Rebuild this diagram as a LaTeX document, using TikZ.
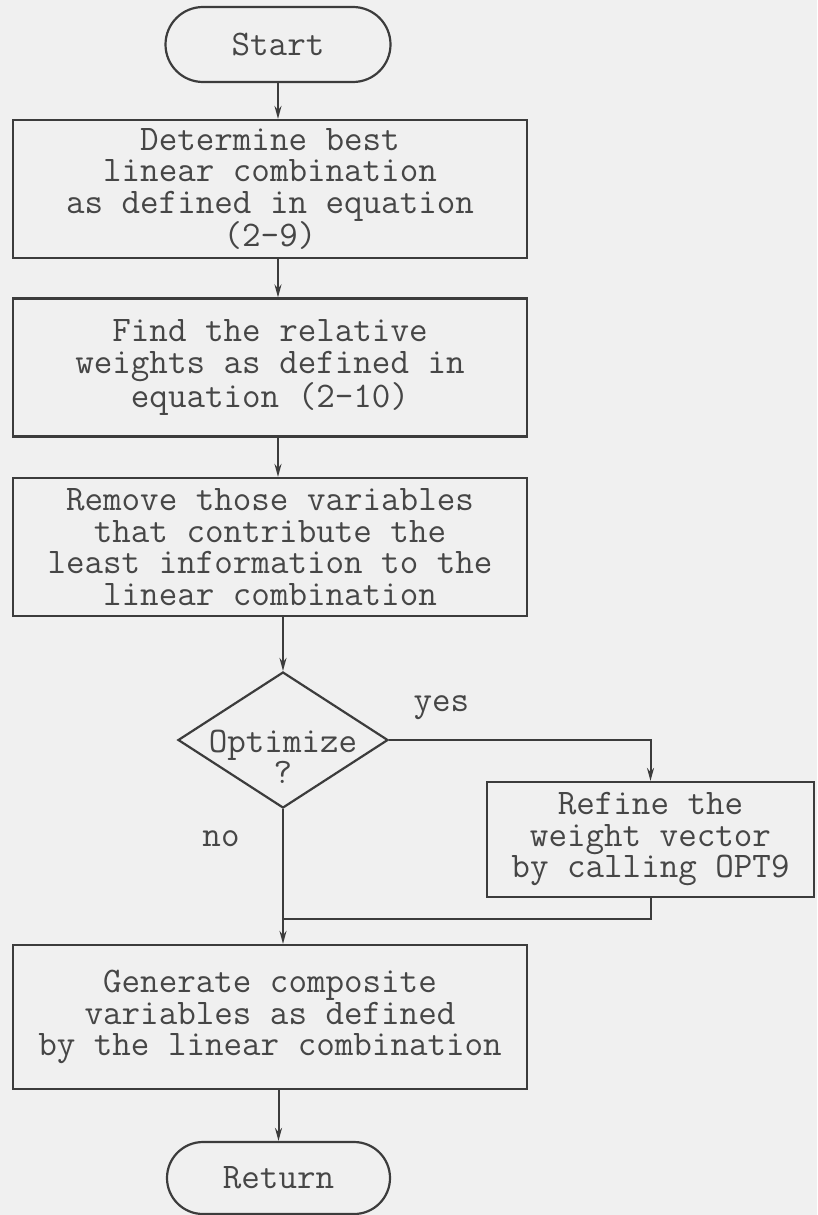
\documentclass[tikz,border=0pt]{standalone}
\usepackage{fontspec}
\usetikzlibrary{shapes.geometric,shapes.misc,arrows.meta}
\definecolor{bg}{RGB}{240,240,240}
\definecolor{ink}{RGB}{60,60,60}
\definecolor{txt}{RGB}{70,70,70}
\newcommand{\flowfont}{\ttfamily\fontsize{36}{31.5}\selectfont}
\begin{document}
\begin{tikzpicture}[x=1pt,y=-1pt,
  base/.style={draw=ink, line width=2.2pt, text=txt,
    font=\flowfont, align=center, inner sep=0pt},
  terminal/.style={base, rounded rectangle, minimum width=225pt, minimum height=75pt},
  process/.style={base, rectangle, minimum width=514pt, minimum height=138pt},
  decision/.style={base, diamond, minimum width=210pt, minimum height=136pt},
  lbl/.style={text=txt, font=\flowfont, align=center, inner sep=0pt},
  link/.style={draw=ink, line width=2pt},
  arr/.style={link, -{Stealth[length=13pt,width=7pt]}}]
\useasboundingbox (0,0) rectangle (817,1215);
\fill[bg] (0,0) rectangle (817,1215);

\node[terminal] (start) at (278,44.5) {Start};
\node[process] (b1) at (270,189) {Determine best\\linear combination\\as defined in equation\\(2-9)};
\node[process] (b2) at (270,367.5) {Find the relative\\weights as defined in\\equation (2-10)};
\node[process] (b3) at (270,547) {Remove those variables\\that contribute the\\least information to the\\linear combination};
\node[decision, label={[lbl, yshift=-17pt]center:Optimize\\?}] (dec) at (283,740) {};
\node[process, minimum width=327pt, minimum height=115pt] (ref) at (650.5,839.5) {Refine the\\weight vector\\by calling OPT9};
\node[process, minimum height=144pt] (fin) at (270,1017) {Generate composite\\variables as defined\\by the linear combination};
\node[terminal, minimum width=223pt, minimum height=72pt] (ret) at (278.5,1178) {Return};

\draw[arr] (start.south) -- (start.south |- b1.north);
\draw[arr] (b1.south -| start.south) -- (b2.north -| start.south);
\draw[arr] (b2.south -| start.south) -- (b3.north -| start.south);
\draw[arr] (b3.south -| dec.north) -- (dec.north);
\draw[arr] (dec.east) -| node[lbl, pos=0.1, yshift=32pt] {yes} (ref.north);
\path (ref.south) ++(0,21) coordinate (m);
\draw[link] (ref.south) -- (m) -- (m -| dec.south);
\draw[arr] (dec.south) -- node[lbl, pos=0.22, xshift=-62pt] {no} (fin.north -| dec.south);
\draw[arr] (fin.south -| ret.north) -- (ret.north);
\end{tikzpicture}
\end{document}
